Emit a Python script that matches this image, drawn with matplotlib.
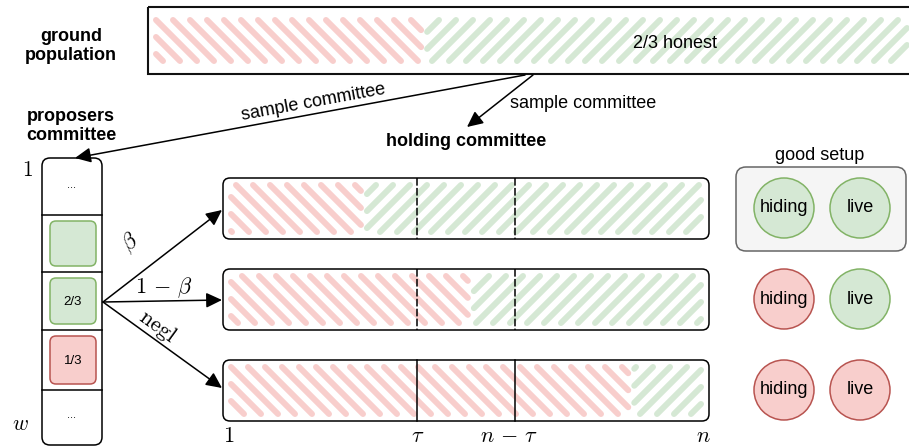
import matplotlib
matplotlib.use("Agg")
import matplotlib.pyplot as plt
from matplotlib.patches import FancyBboxPatch, Rectangle, Circle, FancyArrowPatch
from matplotlib.collections import LineCollection
import numpy as np

plt.rcParams['font.family'] = ['Liberation Sans', 'DejaVu Sans']
plt.rcParams['mathtext.fontset'] = 'cm'

# ---------------- data ----------------
ground_label = "ground\npopulation"
ground_dishonest_frac = 0.36
ground_text = "2/3 honest"
proposer_cells = ["...", "", "2/3", "1/3", "..."]
proposer_cell_kind = [None, "honest", "honest", "dishonest", None]
branch_labels = [r"$\beta$", r"$1\,-\,\beta$", r"$\mathrm{negl}$"]
holding_dishonest_frac = [0.29, 0.51, 0.84]
threshold_labels = [r"$1$", r"$\tau$", r"$n\,-\,\tau$", r"$n$"]
threshold_frac = [0.0, 0.40, 0.60, 1.0]
divider_dashed = [True, True, False]
hiding_good = [True, False, False]
live_good = [True, True, False]

RED_F, RED_E = "#f8cecc", "#b85450"
GRN_F, GRN_E = "#d5e8d4", "#82b366"

fig = plt.figure(figsize=(9.09, 4.46), dpi=100)
ax = fig.add_axes([0, 0, 1, 1])
ax.set_xlim(0, 909)
ax.set_ylim(446, 0)
ax.axis('off')

FS = 13
MFS = 15.5


def hatch(x0, x1, y0, y1, direction, color, spacing=17.0, lw=4.3):
    segs = []
    if direction == 'back':  # x - y = c
        start = np.floor((x0 - y1) / spacing) * spacing
        for c in np.arange(start, x1 - y0 + spacing, spacing):
            ya = max(y0, x0 - c)
            yb = min(y1, x1 - c)
            if yb >= ya:
                if yb - ya < 0.4:
                    yb = ya + 0.4
                segs.append([(ya + c, ya), (yb + c, yb)])
    else:  # x + y = c
        start = np.floor((x0 + y0) / spacing) * spacing
        for c in np.arange(start, x1 + y1 + spacing, spacing):
            ya = max(y0, c - x1)
            yb = min(y1, c - x0)
            if yb >= ya:
                if yb - ya < 0.4:
                    yb = ya + 0.4
                segs.append([(c - ya, ya), (c - yb, yb)])
    lc = LineCollection(segs, colors=color, linewidths=lw, capstyle='round', zorder=1)
    ax.add_collection(lc)


def split_bar(x0, x1, y0, y1, frac, inx, iny):
    xs = x0 + frac * (x1 - x0)
    hatch(x0 + inx, xs - 3, y0 + iny, y1 - iny, 'back', RED_F)
    hatch(xs + 3, x1 - inx, y0 + iny, y1 - iny, 'fwd', GRN_F)


def arrow(p, q):
    a = FancyArrowPatch(p, q, arrowstyle='-|>,head_length=0.8,head_width=0.38',
                        mutation_scale=12, lw=1.1, color='black',
                        shrinkA=0, shrinkB=0, zorder=4)
    ax.add_patch(a)


# ---------------- ground population ----------------
gx0, gx1, gy0, gy1 = 148, 915, 7, 74
split_bar(gx0, gx1, gy0, gy1, ground_dishonest_frac, 8, 13)
ax.add_patch(Rectangle((gx0, gy0), gx1 - gx0, gy1 - gy0, fc='none', ec='#111111', lw=1.5, zorder=3))
ax.text(675, 44, ground_text, fontsize=FS, ha='center', va='center', zorder=5)
ax.text(71, 46, ground_label, fontsize=FS, fontweight='bold', ha='center', va='center',
        linespacing=1.1)

# ---------------- sampling arrows ----------------
arrow((525, 75), (75, 158))
ax.text(313, 102, "sample committee", fontsize=FS, ha='center', va='center', rotation=10.4,
        rotation_mode='anchor')
arrow((533, 75), (467, 127))
ax.text(510, 103, "sample committee", fontsize=FS, ha='left', va='center')
ax.text(466, 142, "holding committee", fontsize=FS, fontweight='bold', ha='center', va='center')
ax.text(71, 126, "proposers\ncommittee", fontsize=FS, fontweight='bold', ha='center', va='center',
        linespacing=1.1)

# ---------------- proposers column ----------------
px0, px1, py0, py1 = 42, 102, 158, 445
ax.add_patch(FancyBboxPatch((px0, py0), px1 - px0, py1 - py0,
                            boxstyle="round,pad=0,rounding_size=8",
                            fc='white', ec='black', lw=1.1, zorder=2))
cell_edges = [158, 215, 272, 330, 390, 445]
for yb in cell_edges[1:-1]:
    ax.plot([px0, px1], [yb, yb], color='black', lw=1.1, zorder=3)
for i, (lab, kind) in enumerate(zip(proposer_cells, proposer_cell_kind)):
    ya, yb = cell_edges[i], cell_edges[i + 1]
    yc = (ya + yb) / 2
    if kind is not None:
        fc, ec = (GRN_F, GRN_E) if kind == "honest" else (RED_F, RED_E)
        ax.add_patch(FancyBboxPatch((50, ya + 6), 46, (yb - ya) - 12,
                                    boxstyle="round,pad=0,rounding_size=6",
                                    fc=fc, ec=ec, lw=1.1, zorder=3))
    if lab:
        if lab == "...":
            ax.text(72, yc - 2, lab, fontsize=8, ha='center', va='center', zorder=4)
        else:
            ax.text(73, yc + 1, lab, fontsize=9.5, ha='center', va='center', zorder=4)
ax.text(27, 170, r"$1$", fontsize=MFS, ha='center', va='center')
ax.text(20, 425, r"$w$", fontsize=MFS, ha='center', va='center')

# ---------------- holding committee rows ----------------
hx0, hx1 = 223, 709
row_y = [(178, 239), (269, 330), (360, 421)]
arrow_targets = [210, 300, 388]
label_pos = [(130, 243, 38), (164, 288, 0), (158, 326, -36)]
for i, (y0, y1) in enumerate(row_y):
    split_bar(hx0, hx1, y0, y1, holding_dishonest_frac[i], 8, 7)
    ax.add_patch(FancyBboxPatch((hx0, y0), hx1 - hx0, y1 - y0,
                                boxstyle="round,pad=0,rounding_size=7",
                                fc='none', ec='black', lw=1.1, zorder=3))
    for f in threshold_frac[1:3]:
        xd = hx0 + f * (hx1 - hx0)
        if divider_dashed[i]:
            ax.plot([xd, xd], [y0, y1], color='black', lw=1.1, dashes=(5, 1.5), zorder=3)
        else:
            ax.plot([xd, xd], [y0, y1], color='black', lw=1.1, zorder=3)
    arrow((103, 302), (222, arrow_targets[i]))
    lx, ly, rot = label_pos[i]
    ax.text(lx, ly, branch_labels[i], fontsize=MFS + 0.5, ha='center', va='center', rotation=rot)

label_dx = [6, 0, -5, -6]
for lab, f, dx in zip(threshold_labels, threshold_frac, label_dx):
    ax.text(hx0 + f * (hx1 - hx0) + dx, 436, lab, fontsize=MFS + 0.5, ha='center', va='center')

# ---------------- outcomes ----------------
ax.text(820, 155, "good setup", fontsize=FS, ha='center', va='center')
ax.add_patch(FancyBboxPatch((736, 167), 170, 84, boxstyle="round,pad=0,rounding_size=10",
                            fc='#f5f5f5', ec='#666666', lw=1.1, zorder=1))
circ_y = [208, 299, 390]
for i, yc in enumerate(circ_y):
    for xc, good, lab in [(784, hiding_good[i], "hiding"), (860, live_good[i], "live")]:
        fc, ec = (GRN_F, GRN_E) if good else (RED_F, RED_E)
        ax.add_patch(Circle((xc, yc), 30, fc=fc, ec=ec, lw=1.1, zorder=2))
        ax.text(xc, yc, lab, fontsize=FS, ha='center', va='center', zorder=3)

fig.savefig("out.png", dpi=100)
